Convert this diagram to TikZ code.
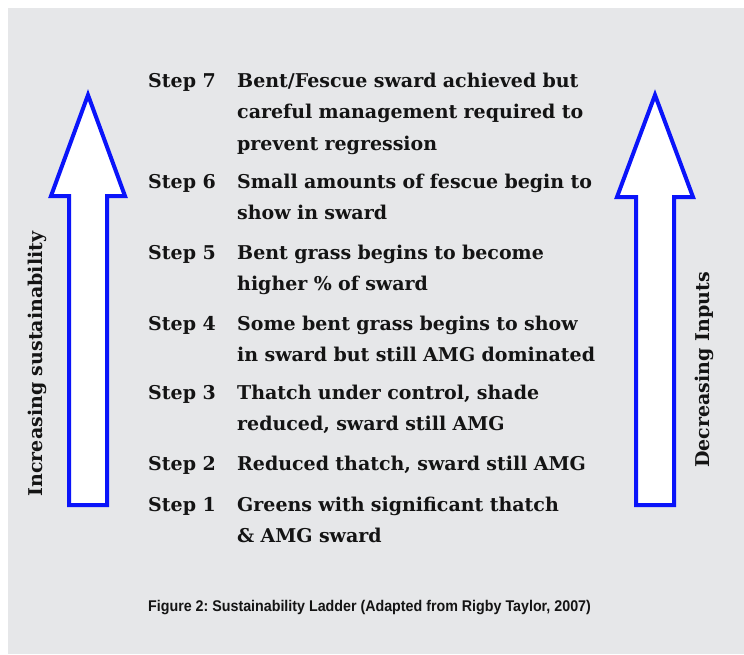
\documentclass[tikz,border=0pt]{standalone}
\usepackage{graphicx}
\usepackage{fontspec}
\setmainfont{DejaVu Serif}
\setsansfont{Liberation Sans}
\usetikzlibrary{positioning}
\frenchspacing

\definecolor{ladderbg}{RGB}{230,231,233}
\definecolor{ladderblue}{RGB}{10,20,250}
\definecolor{ladderink}{RGB}{20,20,20}

\begin{document}
\begin{tikzpicture}[x=1pt,y=-1pt,
    steplabel/.style={anchor=base west,inner sep=0pt,text=ladderink,
        font=\bfseries\fontsize{19}{31.5}\selectfont},
    stepdesc/.style={steplabel,align=left,text width=420pt},
    sidelabel/.style={steplabel,anchor=center,rotate=90},
    ladderarrow/.style={draw=ladderblue,fill=white,line width=4pt,line join=miter}]
    \useasboundingbox (0,0) rectangle (744,654);
    \fill[ladderbg] (8,8) rectangle (744,654);

    % arrows
    \draw[ladderarrow] (88,95) -- (125,196) -- (107,196) -- (107,505)
        -- (69,505) -- (69,196) -- (51,196) -- cycle;
    \draw[ladderarrow] (655,95) -- (693,197) -- (674,197) -- (674,505)
        -- (636,505) -- (636,197) -- (617,197) -- cycle;

    \node[sidelabel] (left) at (37,364) {Increasing sustainability};
    \node[sidelabel] (right) at (704,370) {Decreasing Inputs};

    % steps
    \node[steplabel] (s7) at (148,87) {Step 7};
    \node[stepdesc] (d7) at (237,87) {Bent/Fescue sward achieved but\\
        careful management required to\\ prevent regression};
    \node[steplabel] (s6) at (148,188) {Step 6};
    \node[stepdesc] (d6) at (237,188) {Small amounts of fescue begin to\\
        show in sward};
    \node[steplabel] (s5) at (148,259) {Step 5};
    \node[stepdesc] (d5) at (237,259) {Bent grass begins to become\\
        higher \% of sward};
    \node[steplabel] (s4) at (148,330) {Step 4};
    \node[stepdesc] (d4) at (237,330) {Some bent grass begins to show\\
        in sward but still AMG dominated};
    \node[steplabel] (s3) at (148,399) {Step 3};
    \node[stepdesc] (d3) at (237,399) {Thatch under control, shade\\
        reduced, sward still AMG};
    \node[steplabel] (s2) at (148,470) {Step 2};
    \node[stepdesc] (d2) at (237,470) {Reduced thatch, sward still AMG};
    \node[steplabel] (s1) at (148,511) {Step 1};
    \node[stepdesc] (d1) at (237,511) {Greens with significant thatch\\
        \& AMG sward};

    \node[anchor=base west,inner sep=0pt,text=ladderink,
        font=\sffamily\bfseries\fontsize{15.5}{18}\selectfont] (caption) at (148,611)
        {\scalebox{0.92}[1]{Figure 2: Sustainability Ladder (Adapted from Rigby Taylor, 2007)}};
\end{tikzpicture}
\end{document}
